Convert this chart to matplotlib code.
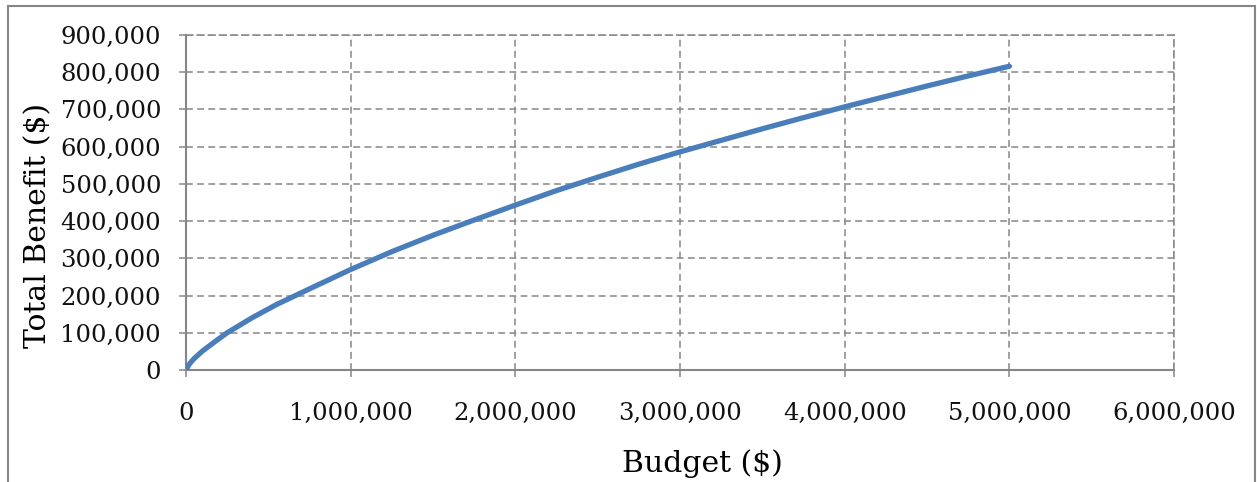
import matplotlib.pyplot as plt
from matplotlib.patches import Rectangle
from matplotlib.ticker import FuncFormatter

# budget ($) vs total benefit ($)
budget = [0, 20000, 50000, 100000, 175000, 250000, 400000, 550000, 750000,
          1000000, 1250000, 1500000, 1750000, 2000000, 2250000, 2500000,
          2750000, 3000000, 3250000, 3500000, 3750000, 4000000, 4250000,
          4500000, 4750000, 5000000]
benefit = [0, 16000, 31000, 51000, 76000, 100000, 140000, 176000, 218000,
           270000, 318000, 362000, 403000, 443000, 482000, 518000,
           553000, 586000, 617000, 648000, 678000, 707000, 735000,
           763000, 790000, 816000]

x_ticks = [0, 1000000, 2000000, 3000000, 4000000, 5000000, 6000000]
y_ticks = [0, 100000, 200000, 300000, 400000, 500000, 600000, 700000, 800000, 900000]

GRAY = '#868686'
LINE = '#4A7EBB'
DASH = (0, (4.5, 2.8))

plt.rcParams['font.family'] = ['DejaVu Serif']

fig = plt.figure(figsize=(12.57, 4.82), dpi=100)
ax = fig.add_axes([0.148, 0.2324, 0.786, 0.695])

# outer chart frame (bottom edge runs off the canvas)
fig.patches.append(Rectangle((8 / 1257, -0.1), 1247 / 1257, 1.1 - 5.5 / 482,
                             transform=fig.transFigure, fill=False,
                             edgecolor=GRAY, linewidth=1.5))

ax.plot(budget, benefit, color=LINE, linewidth=3.8, solid_capstyle='round',
        solid_joinstyle='round', zorder=3)

ax.set_xlim(0, 6000000)
ax.set_ylim(0, 900000)
ax.set_xticks(x_ticks)
ax.set_yticks(y_ticks)
fmt = FuncFormatter(lambda v, _: f'{v:,.0f}')
ax.xaxis.set_major_formatter(fmt)
ax.yaxis.set_major_formatter(fmt)

ax.grid(True, color=GRAY, linestyle=DASH, linewidth=1.1)
ax.set_axisbelow(True)
for s in ['left', 'bottom']:
    ax.spines[s].set_color(GRAY)
    ax.spines[s].set_linewidth(1.5)
for s in ['top', 'right']:
    ax.spines[s].set_color(GRAY)
    ax.spines[s].set_linewidth(1.1)
    ax.spines[s].set_linestyle(DASH)

ax.tick_params(axis='both', direction='out', length=5, width=1.1, color=GRAY,
               labelsize=17.5, labelcolor='#111111')
ax.tick_params(axis='x', pad=18)
ax.tick_params(axis='y', pad=13)

ax.set_xlabel('Budget ($)', fontsize=21.5)
ax.set_ylabel('Total Benefit ($)', fontsize=21.5)
ax.xaxis.label.set_va('center')
ax.yaxis.label.set_va('center')
ax.xaxis.set_label_coords(0.523, -0.278)
ax.yaxis.set_label_coords(-0.1498, 0.43)

fig.savefig('out.png', dpi=100)
